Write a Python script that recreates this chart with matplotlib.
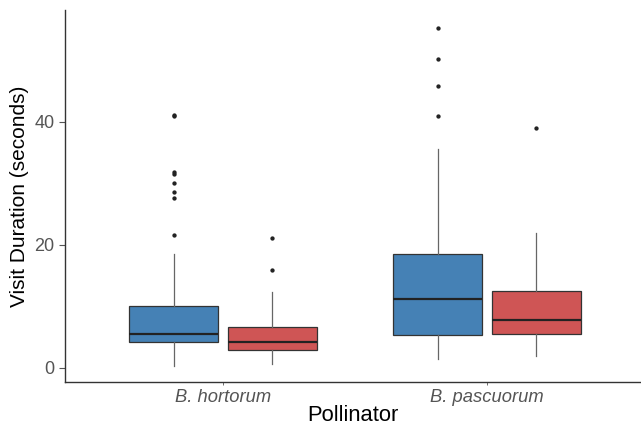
import matplotlib
matplotlib.use("Agg")
import matplotlib.pyplot as plt
import numpy as np

plt.rcParams['font.family'] = ['Liberation Sans', 'DejaVu Sans']

# box statistics (seconds)
pollinators = ["B. hortorum", "B. pascuorum"]
colours = ["#4581b5", "#cf5555"]

q1 = [4.3, 2.9, 5.4, 5.6]
med = [5.6, 4.3, 11.2, 7.8]
q3 = [10.1, 6.6, 18.5, 12.5]
whislo = [0.4, 0.6, 1.5, 1.9]
whishi = [18.5, 12.4, 35.6, 21.9]
fliers = [
    [21.7, 27.6, 28.6, 30.0, 31.5, 31.8, 41.0, 41.2],
    [15.9, 21.1],
    [41.0, 45.8, 50.2, 55.2],
    [39.0],
]

stats = []
for i in range(4):
    stats.append(dict(q1=q1[i], med=med[i], q3=q3[i], whislo=whislo[i],
                      whishi=whishi[i], fliers=fliers[i]))

pos = [1 - 0.187, 1 + 0.187, 2 - 0.187, 2 + 0.187]

fig = plt.figure(figsize=(6.41, 4.26), dpi=100)
ax = fig.add_axes([0.1014, 0.1033, 0.8986, 0.8732])

bp = ax.bxp(stats, positions=pos, widths=0.335, patch_artist=True,
            showcaps=False,
            boxprops=dict(edgecolor="#333333", linewidth=0.9),
            medianprops=dict(color="#222222", linewidth=1.6),
            whiskerprops=dict(color="#666666", linewidth=0.9),
            flierprops=dict(marker="o", markersize=2.1, markerfacecolor="#222222",
                            markeredgecolor="#222222"))
for i, b in enumerate(bp["boxes"]):
    b.set_facecolor(colours[i % 2])

ax.set_xlim(0.402, 2.583)
ax.set_ylim(-2.28, 58.2)
ax.set_xticks([1, 2])
ax.set_xticklabels(pollinators, style="italic", fontsize=13.2, color="#555555")
ax.set_yticks([0, 20, 40])
ax.tick_params(axis="y", labelsize=13, labelcolor="#555555", color="#555555",
               length=4, width=0.8)
ax.tick_params(axis="x", color="#555555", length=2, width=0.6, pad=3)
ax.set_xlabel("Pollinator", fontsize=15.8, labelpad=-1)
ax.set_ylabel("Visit Duration (seconds)", fontsize=15, labelpad=4)

for s in ["top", "right"]:
    ax.spines[s].set_visible(False)
for s in ["left", "bottom"]:
    ax.spines[s].set_color("#333333")
    ax.spines[s].set_linewidth(1.0)

fig.savefig("out.png", dpi=100)
